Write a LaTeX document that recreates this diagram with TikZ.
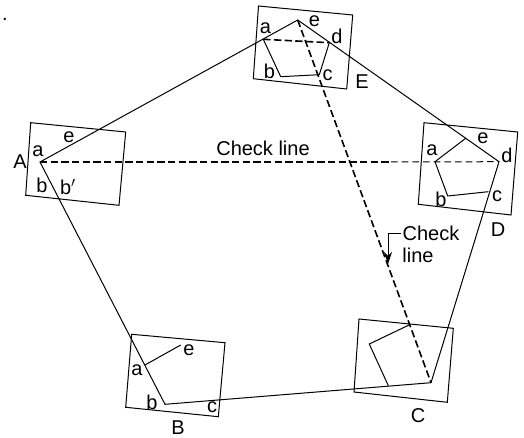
\documentclass[tikz,border=0pt]{standalone}
\usepackage{fontspec}
\setmainfont{Liberation Sans}
\usetikzlibrary{arrows.meta}
\tikzset{every picture/.style={line width=0.75pt}}
\tikzset{
  lbl/.style={font=\fontsize{15}{15}\selectfont,inner sep=0pt},
  chainline/.style={draw=black},
  checkthick/.style={draw=black,line width=1.2pt,dash pattern=on 5.5pt off 2.5pt},
  checkthin/.style={draw=black,line width=0.75pt,dash pattern=on 5pt off 3pt}
}
\begin{document}
\begin{tikzpicture}[x=0.75pt,y=0.75pt,yscale=-1,xscale=1]
	\useasboundingbox (0,0) rectangle (524,438);

	%Shape: Sheets at the five stations
	\draw (30.7,122.7) -- (125.7,132) -- (119,205.3) -- (25.7,195.3) -- cycle ;
	\draw (131.7,334.3) -- (225,342.7) -- (218.3,416.7) -- (125.7,407.3) -- cycle ;
	\draw (359,319) -- (453.3,328.3) -- (447.3,402.3) -- (354,392) -- cycle ;
	\draw (424,122.7) -- (517.7,132) -- (511,215) -- (418.3,204.3) -- cycle ;
	\draw (258.5,6) -- (352.7,15) -- (346.7,89) -- (253.3,78.7) -- cycle ;

	%Stations
	\coordinate (stA) at (40,162);
	\coordinate (stB) at (165,404.3);
	\coordinate (stC) at (431,382.7);
	\coordinate (stD) at (499,161.7);
	\coordinate (stE) at (297.7,20);
	\coordinate (chkD) at (391,162);
	%Rays on the sheets
	\coordinate (Bray) at (145,365);
	\coordinate (Bend) at (180.7,345);
	\coordinate (Cray) at (409,325);
	\coordinate (Cleft) at (369.3,344);
	\coordinate (Cbot) at (388.3,385.7);
	\coordinate (Da) at (435,161.7);
	\coordinate (De) at (465.7,138.3);
	\coordinate (Db) at (447.7,196);
	\coordinate (Dc) at (488.3,191.7);
	\coordinate (Ea) at (263.3,39.3);
	\coordinate (Eb) at (280.7,76.7);
	\coordinate (Ec) at (319.3,74.7);
	\coordinate (Ed) at (329.3,42.7);

	%Straight Lines: the traverse
	\draw [chainline] (stA) -- (stB) -- (stC) -- (stD) -- (stE) -- cycle ;
	%Straight Lines: plotted on the sheets
	\draw [chainline] (Bray) -- (Bend) ;
	\draw [chainline] (Cray) -- (Cleft) -- (Cbot) ;
	\draw [chainline] (De) -- (Da) -- (Db) -- (Dc) ;
	\draw [chainline] (Ed) -- (Ec) ;
	\draw [chainline] (Ea) -- (Eb) -- (Ec) ;

	%Check lines
	\draw [checkthick] (stA) -- (chkD) ;
	\draw [checkthin] (chkD) -- (stD) ;
	\draw [checkthick] (stE) -- (stC) ;
	\draw [checkthick] (Ea) -- (Ed) ;

	% Text Node
	\node [lbl] (dot) at (5,19) {.};
	\node [lbl] (lblA) at (20,162) {A};
	\node [lbl] (Aa) at (38,151) {a};
	\node [lbl] (Ae) at (69,137) {e};
	\node [lbl] (Ab) at (42,185) {b};
	\node [lbl] (Abp) at (68,187) {b$'$};
	\node [lbl] (lblB) at (178,428) {B};
	\node [lbl] (Btxa) at (137,370) {a};
	\node [lbl] (Btxe) at (189,350) {e};
	\node [lbl] (Btxb) at (152,402) {b};
	\node [lbl] (Btxc) at (212,407) {c};
	\node [lbl] (lblC) at (418,416) {C};
	\node [lbl] (lblD) at (498,230) {D};
	\node [lbl] (Dtxa) at (432,150) {a};
	\node [lbl] (Dtxe) at (483,138) {e};
	\node [lbl] (Dtxd) at (507,155) {d};
	\node [lbl] (Dtxc) at (497,196) {c};
	\node [lbl] (Dtxb) at (441,199) {b};
	\node [lbl] (lblE) at (362,82) {E};
	\node [lbl] (Etxa) at (265.5,28) {a};
	\node [lbl] (Etxe) at (314.5,21.5) {e};
	\node [lbl] (Etxd) at (337,36.5) {d};
	\node [lbl] (Etxb) at (269.5,71.5) {b};
	\node [lbl] (Etxc) at (327.5,75) {c};
	\node [lbl] (chkTop) at (263,148) {Check line};
	\node [lbl] (chkA) at (431,233) {Check};
	\node [lbl] (chkB) at (418,255) {line};

	%Arrow to the check line
	\coordinate (tip) at (388,264);
	\draw [-{Stealth[length=9pt,width=6pt]}] ([xshift=-1pt]chkA.west) -| (tip) ;
\end{tikzpicture}
\end{document}
